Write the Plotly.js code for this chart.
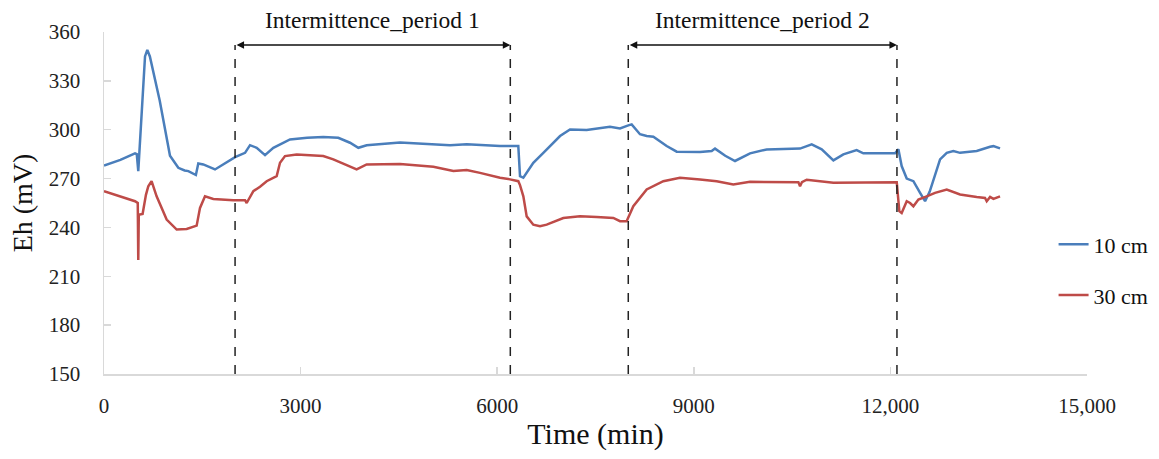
<!DOCTYPE html>
<html>
<head>
<meta charset="utf-8">
<script src="https://cdn.plot.ly/plotly-3.0.1.min.js"></script>
<style>html,body{margin:0;padding:0;background:#fff;}#chart{width:1159px;height:459px;}</style>
</head>
<body>
<div id="chart"></div>
<script>
// ---- data ----
const seriesNames = ["10 cm", "30 cm"];
const time10 = [0, 250, 473, 500, 523, 560, 626, 661, 700, 850, 1007, 1134, 1230, 1287, 1350, 1402, 1439, 1515, 1694, 1821, 2000, 2152, 2228, 2330, 2457, 2584, 2838, 3100, 3346, 3575, 3754, 3881, 4008, 4517, 5280, 5535, 6043, 6322, 6348, 6399, 6551, 6704, 6959, 7111, 7365, 7721, 7874, 8001, 8052, 8179, 8281, 8383, 8586, 8739, 9095, 9273, 9324, 9480, 9603, 9629, 9858, 10112, 10621, 10799, 10952, 11130, 11282, 11485, 11587, 12071, 12122, 12172, 12249, 12351, 12453, 12529, 12600, 12758, 12860, 12961, 13063, 13317, 13521, 13572, 13673];
const eh10 = [278, 281.5, 285.5, 285, 274.6, 300, 345, 349, 345, 318, 284, 276.6, 275, 274.6, 273.5, 272.2, 279.3, 278.7, 275.6, 278.7, 283.2, 285.8, 290.5, 288.9, 284.4, 288.9, 294, 295, 295.5, 295, 292, 288.9, 290.5, 292.2, 290.5, 291, 290, 290, 271.5, 270.5, 279.7, 285.8, 296.1, 300.2, 299.8, 301.8, 300.8, 302.7, 303.3, 297.2, 296.1, 295.7, 290, 286.5, 286.3, 286.9, 288.4, 284, 281, 280.8, 285.5, 287.9, 288.4, 291, 288, 281.2, 284.9, 287.5, 285.5, 285.5, 288, 277.7, 270, 268.4, 261.2, 256.1, 262, 281.8, 285.8, 286.9, 285.8, 286.9, 289.5, 289.9, 288.5];
const time30 = [0, 250, 473, 515, 523, 531, 549, 589, 640, 676, 726, 803, 956, 1109, 1261, 1414, 1465, 1541, 1617, 1668, 1973, 2152, 2177, 2279, 2381, 2482, 2635, 2686, 2762, 2940, 3346, 3499, 3855, 4008, 4517, 5026, 5331, 5535, 5738, 6043, 6196, 6322, 6348, 6399, 6450, 6551, 6653, 6755, 7009, 7263, 7518, 7772, 7874, 7975, 8077, 8281, 8535, 8789, 9095, 9349, 9603, 9858, 10596, 10621, 10650, 10723, 11130, 12097, 12136, 12172, 12249, 12300, 12351, 12427, 12554, 12681, 12860, 13063, 13317, 13444, 13470, 13521, 13572, 13673];
const eh30 = [262.3, 259, 256.1, 255, 220, 248, 247.9, 248.3, 260, 265.3, 268.4, 259.1, 244.8, 238.7, 239.1, 241.1, 252, 259.1, 258.1, 257.5, 256.7, 256.7, 255, 262.3, 265, 268.4, 271.5, 279.7, 283.8, 284.8, 283.8, 281.8, 275.6, 278.7, 279, 277.3, 274.6, 275.3, 273.5, 270.5, 269.5, 268.4, 266, 259.1, 246.8, 241.7, 240.7, 241.7, 245.8, 246.8, 246.4, 245.8, 243.8, 243.8, 253, 263.3, 268.4, 270.5, 269.5, 268.4, 266.4, 268, 267.8, 265.3, 267.8, 269.3, 267.4, 267.8, 250, 248.9, 256.1, 255, 253, 257.1, 259.1, 261.2, 263.3, 260.2, 258.7, 258.1, 256.1, 258.7, 257.5, 259.1];
const xTickVals = [0, 3000, 6000, 9000, 12000, 15000];
const xTickText = ["0", "3000", "6000", "9000", "12,000", "15,000"];
const yTickVals = [150, 180, 210, 240, 270, 300, 330, 360];
const periodStart = [2000, 8000];
const periodEnd = [6200, 12100];
const periodLabels = ["Intermittence_period 1", "Intermittence_period 2"];

// ---- styles ----
const serif = "Liberation Serif, Times New Roman, serif";
const colors = ["#4a7ebb", "#be4b48"];
const markerLevel = 352;

const traces = [
  {x: time10, y: eh10, name: seriesNames[0], mode: "lines", legendgroup: "a",
   line: {color: colors[0], width: 2.5}},
  {x: time30, y: eh30, name: seriesNames[1], mode: "lines", legendgroup: "b",
   line: {color: colors[1], width: 2.5}}
];

const shapes = [];
const annotations = [];
for (let i = 0; i < periodStart.length; i++) {
  [periodStart[i], periodEnd[i]].forEach(t => {
    shapes.push({type: "line", xref: "x", yref: "y", x0: t, x1: t, y0: 150, y1: markerLevel,
      line: {color: "#222", width: 1.5, dash: "dash"}});
  });
  annotations.push({xref: "x", yref: "y", x: periodEnd[i], y: markerLevel,
    axref: "x", ayref: "y", ax: periodStart[i], ay: markerLevel, text: "",
    showarrow: true, arrowside: "end+start", arrowhead: 2, startarrowhead: 2,
    arrowsize: 1, startarrowsize: 1, arrowwidth: 1.5, arrowcolor: "#111", standoff: 0, startstandoff: 0});
  annotations.push({xref: "x", yref: "paper", x: (periodStart[i] + periodEnd[i]) / 2, y: 1.035,
    yanchor: "middle", text: periodLabels[i], showarrow: false,
    font: {family: serif, size: 23.5, color: "#111"}});
}

const layout = {
  width: 1159, height: 459,
  margin: {l: 104, r: 72, t: 32, b: 85, autoexpand: false},
  paper_bgcolor: "#fff", plot_bgcolor: "#fff",
  font: {family: serif, color: "#222"},
  showlegend: true,
  legend: {x: 0.966, y: 0.44, xanchor: "left", yanchor: "top", tracegroupgap: 19,
    font: {family: serif, size: 22, color: "#111"}, bgcolor: "rgba(0,0,0,0)"},
  xaxis: {range: [0, 15000], tickvals: xTickVals, ticktext: xTickText, automargin: false,
    showgrid: false, zeroline: false, showline: true, linecolor: "#d9d9d9", linewidth: 1.5,
    ticks: "inside", ticklen: 7, tickcolor: "#d9d9d9", tickwidth: 1.5,
    tickfont: {family: serif, size: 21, color: "#222"}, ticklabelstandoff: 12,
    title: {text: "Time (min)", font: {family: serif, size: 30, color: "#111"}, standoff: 6}},
  yaxis: {range: [150, 360], tickvals: yTickVals, automargin: false,
    showgrid: false, zeroline: false, showline: true, linecolor: "#d9d9d9", linewidth: 1.5,
    ticks: "inside", ticklen: 7, tickcolor: "#d9d9d9", tickwidth: 1.5,
    tickfont: {family: serif, size: 21, color: "#222"}, ticklabelstandoff: 18,
    title: {text: "Eh (mV)", font: {family: serif, size: 28, color: "#111"}, standoff: 8}},
  shapes: shapes,
  annotations: annotations
};

Plotly.newPlot("chart", traces, layout, {displayModeBar: false, staticPlot: true});
</script>
</body>
</html>
